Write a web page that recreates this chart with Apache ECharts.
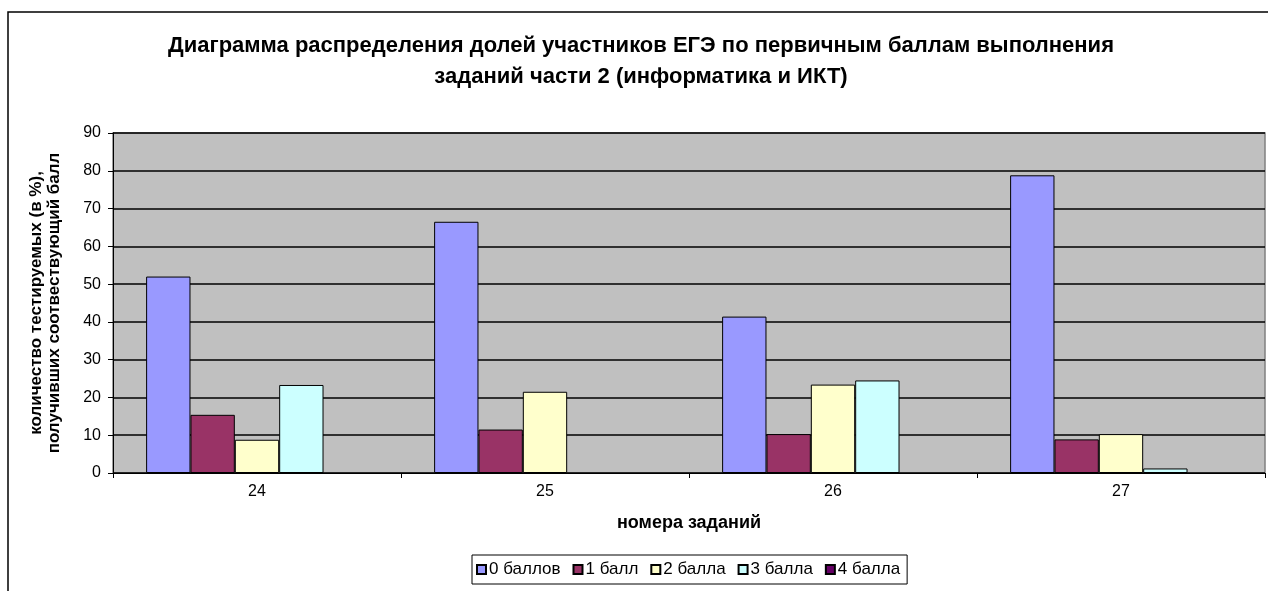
<!DOCTYPE html>
<html>
<head>
<meta charset="utf-8">
<script src="https://cdn.jsdelivr.net/npm/echarts@6/dist/echarts.min.js"></script>
<style>
html,body{margin:0;padding:0;background:#fff;}
#chart{width:1268px;height:591px;}
</style>
</head>
<body>
<div id="chart"></div>
<script>
const categories = ['24', '25', '26', '27'];
const seriesNames = ['0 баллов', '1 балл', '2 балла', '3 балла', '4 балла'];
const score0 = [52.0, 66.5, 41.4, 78.8];
const score1 = [15.4, 11.5, 10.3, 8.9];
const score2 = [8.8, 21.5, 23.4, 10.3];
const score3 = [23.3, null, 24.5, 1.2];
const score4 = [null, null, null, null];
const yTicks = [0, 10, 20, 30, 40, 50, 60, 70, 80, 90];

const colors = ['#9999FF', '#993366', '#FFFFCC', '#CCFFFF', '#660066'];
const values = [score0, score1, score2, score3, score4];
const FONT = 'Liberation Sans, Arial, sans-serif';

const chart = echarts.init(document.getElementById('chart'), null, {renderer: 'canvas'});
chart.setOption({
  animation: false,
  backgroundColor: '#fff',
  textStyle: {fontFamily: FONT},
  graphic: [
    {type: 'rect', shape: {x: 8, y: 12, width: 1300, height: 640},
     style: {fill: 'none', stroke: '#000', lineWidth: 1.5}, silent: true},
    {type: 'text', x: 641, y: 30,
     style: {text: 'Диаграмма распределения долей участников ЕГЭ по первичным баллам выполнения\nзаданий части 2 (информатика и ИКТ)',
       font: 'bold 22px ' + FONT, fill: '#000', align: 'center', verticalAlign: 'top', lineHeight: 31}}
  ],
  legend: {
    data: seriesNames,
    bottom: 7,
    left: 472,
    icon: 'rect',
    itemWidth: 9,
    itemHeight: 9,
    itemGap: 12,
    borderColor: '#000',
    borderWidth: 1,
    padding: [6, 7, 6, 4],
    textStyle: {fontFamily: FONT, fontSize: 17, color: '#000', padding: [0, 0, 0, -2]}
  },
  grid: {left: 113, right: 3, top: 133, bottom: 118, show: true,
         backgroundColor: '#C0C0C0', borderColor: '#808080', borderWidth: 1.5},
  xAxis: {
    type: 'category',
    data: categories,
    name: 'номера заданий',
    nameLocation: 'middle',
    nameGap: 41,
    nameTextStyle: {fontFamily: FONT, fontSize: 18, fontWeight: 'bold', color: '#000'},
    axisLine: {lineStyle: {color: '#000', width: 1}},
    axisTick: {show: true, length: 5, lineStyle: {color: '#000'}},
    axisLabel: {fontFamily: FONT, fontSize: 16, color: '#000', margin: 11}
  },
  yAxis: {
    type: 'value',
    min: yTicks[0],
    max: yTicks[yTicks.length - 1],
    interval: 10,
    name: 'количество тестируемых (в %),\nполучивших соотвествующий балл',
    nameLocation: 'middle',
    nameGap: 50,
    nameTextStyle: {fontFamily: FONT, fontSize: 17, fontWeight: 'bold', color: '#000', lineHeight: 18},
    axisLine: {show: true, lineStyle: {color: '#000', width: 1}},
    axisTick: {show: true, length: 5, lineStyle: {color: '#000'}},
    axisLabel: {fontFamily: FONT, fontSize: 16, color: '#000', margin: 12},
    splitLine: {show: true, lineStyle: {color: '#000', width: 1.5}}
  },
  series: seriesNames.map((name, i) => ({
    name: name,
    type: 'bar',
    data: values[i],
    barGap: '0%',
    barCategoryGap: '23%',
    itemStyle: {color: colors[i], borderColor: '#000', borderWidth: 1}
  }))
});
</script>
</body>
</html>
